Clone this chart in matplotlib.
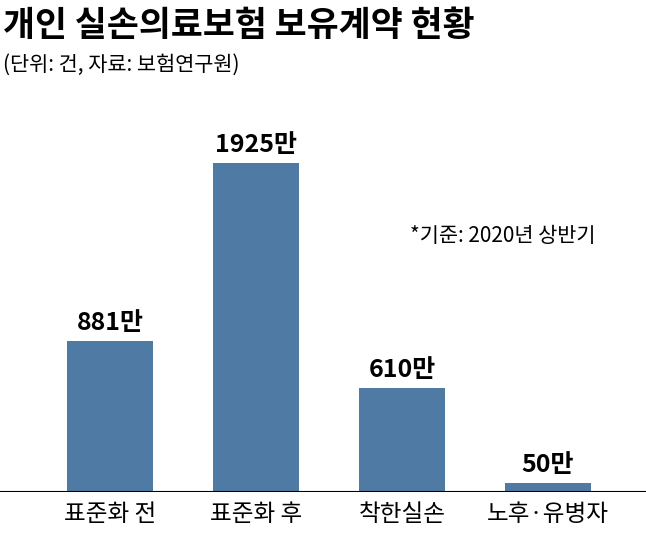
import matplotlib
matplotlib.use("Agg")
import matplotlib.pyplot as plt

plt.rcParams['font.family'] = ['Noto Sans CJK KR', 'DejaVu Sans']

categories = ["표준화 전", "표준화 후", "착한실손", "노후·유병자"]
values = [881, 1925, 610, 50]
labels = ["881만", "1925만", "610만", "50만"]

fig = plt.figure(figsize=(6.46, 5.37), dpi=100)
ax = fig.add_axes([0, 45 / 537, 1, 392 / 537])
x = range(len(values))
ax.bar(x, values, width=0.59, color="#4f7aa3")
ax.set_xlim(-110 / 146, 536 / 146)
ax.set_ylim(0, 1925 * 392 / 329)
for xi, v, lab in zip(x, values, labels):
    ax.text(xi, v + 35, lab, ha="center", va="bottom", fontsize=18, fontweight="bold")
ax.axhline(0, color="black", lw=1.5)
for s in ax.spines.values():
    s.set_visible(False)
ax.set_yticks([])
ax.set_xticks(list(x))
ax.set_xticklabels(categories, fontsize=17)
ax.tick_params(axis="x", length=0, pad=8)

fig.text(0.005, 0.952, "개인 실손의료보험 보유계약 현황", fontsize=25, fontweight="bold", va="center")
fig.text(0.005, 0.88, "(단위: 건, 자료: 보험연구원)", fontsize=15, va="center")
fig.text(0.635, 0.56, "*기준: 2020년 상반기", fontsize=15, va="center")

fig.savefig("out.png", dpi=100)
